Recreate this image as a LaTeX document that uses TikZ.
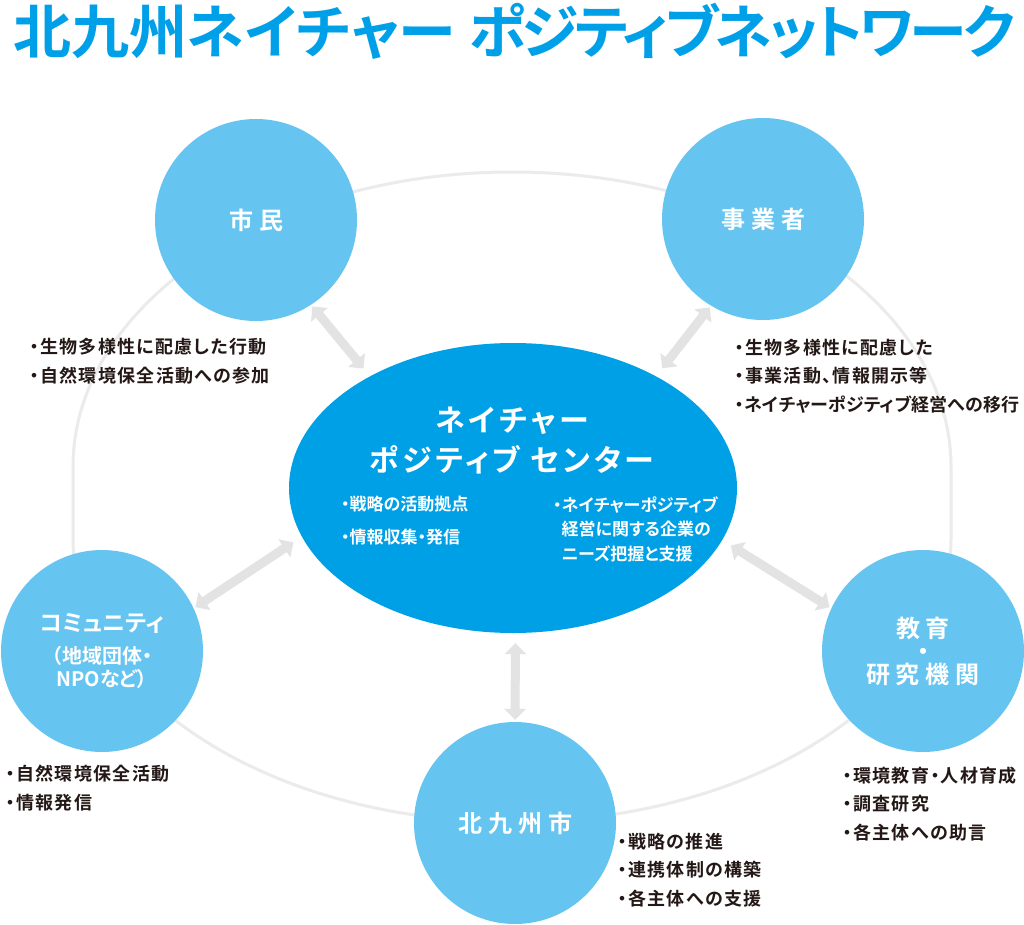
\documentclass[tikz,border=0pt]{standalone}
\usepackage{fontspec}
\setmainfont{Noto Sans CJK JP}[BoldFont={Noto Sans CJK JP Bold},RawFeature=+palt]
\usetikzlibrary{arrows.meta,shapes.geometric}
\definecolor{ttl}{HTML}{00A0E9}
\definecolor{lblue}{HTML}{66C5F0}
\definecolor{cblue}{HTML}{00A0E6}
\definecolor{agray}{HTML}{E3E3E3}
\definecolor{ogray}{HTML}{EBEBEB}
\definecolor{ink}{HTML}{231815}
\begin{document}
\begin{tikzpicture}[x=1pt,y=-1pt,
  actor/.style={circle,fill=lblue,minimum size=202pt,inner sep=0pt,text=white,
    font=\bfseries\fontsize{24}{23}\selectfont\addfontfeatures{LetterSpace=25},align=center},
  link/.style={draw=agray,line width=9pt,
    {Triangle[width=21pt,length=11pt]}-{Triangle[width=21pt,length=11pt]},
    shorten <=2pt,shorten >=10pt},
  note/.style={anchor=west,inner sep=0pt,text=ink,
    font=\bfseries\fontsize{18}{28.5}\selectfont\addfontfeatures{LetterSpace=7},align=left},
  wnote/.style={anchor=west,inner sep=0pt,text=white,
    font=\bfseries\fontsize{17}{24.5}\selectfont,align=left},
]
\useasboundingbox[fill=white] (0,0) rectangle (1024,925);

% orbit
\draw[ogray,line width=3pt] (73,467)
  arc[start angle=180,end angle=360,x radius=439,y radius=295]
  -- (951,538)
  arc[start angle=0,end angle=180,x radius=439,y radius=284] -- cycle;

% title
\node[anchor=west,inner sep=0pt,text=ttl,font=\bfseries\fontsize{58}{58}\selectfont]
  (title) at (13,31) {北九州ネイチャー {\addfontfeatures{LetterSpace=-6}ポジティブネットワーク}};

% actors
\node[actor] (shimin) at (256,220) {市民};
\node[actor] (jigyo) at (763,219) {事業者};
\node[actor,font=\bfseries\fontsize{20}{23}\selectfont] (comm) at (102,651)
  {{\fontsize{23}{23}\selectfont コミュニティ}\\[9pt]（地域団体・\\NPOなど）};
\node[actor] (edu) at (923,651) {教育\\・\\研究機関};
\node[actor] (city) at (515,823) {北九州市};

% center
\node[ellipse,fill=cblue,minimum width=448pt,minimum height=290pt,inner sep=0pt]
  (npc) at (513,488) {};
\node[text=white,inner sep=0pt,align=center,
  font=\bfseries\fontsize{30}{40}\selectfont\addfontfeatures{LetterSpace=12}]
  (npctitle) at (512,441) {ネイチャー\\ポジティブ センター};
\node[wnote] (npcl) at (341,521) {・戦略の活動拠点\\[8.5pt]・情報収集・発信};
\node[wnote] (npcr) at (553,529)
  {・ネイチャーポジティブ\\\phantom{・}経営に関する企業の\\\phantom{・}ニーズ把握と支援};

% links
\draw[link] (shimin.-57) -- (npc.142);
\draw[link] (jigyo.-121) -- (npc.38);
\draw[link] (comm.25) -- (npc.-167);
\draw[link] (edu.155) -- (npc.-14);
\draw[link] (city.90) -- (npc.-89);

% notes
\node[note] (t1) at (30,361) {・生物多様性に配慮した行動\\・自然環境保全活動への参加};
\node[note] (t2) at (735,376) {・生物多様性に配慮した\\・事業活動、情報開示等\\{\addfontfeatures{LetterSpace=1}・ネイチャーポジティブ経営への移行}};
\node[note] (t3) at (6,788) {・自然環境保全活動\\・情報発信};
\node[note] (t4) at (618,870) {・戦略の推進\\・連携体制の構築\\・各主体への支援};
\node[note] (t5) at (843,804) {・環境教育・人材育成\\・調査研究\\・各主体への助言};
\end{tikzpicture}
\end{document}
